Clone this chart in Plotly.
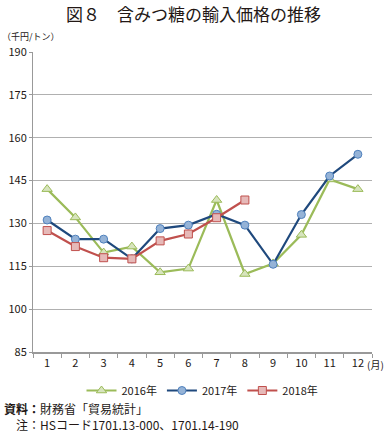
import plotly.graph_objects as go

months = ["1", "2", "3", "4", "5", "6", "7", "8", "9", "10", "11", "12"]
y2016 = [142.0, 132.1, 119.8, 121.9, 112.9, 114.2, 138.2, 112.3, 116.0, 126.0, 145.4, 142.0]
y2017 = [131.2, 124.5, 124.5, 117.6, 128.2, 129.4, 133.2, 129.4, 115.7, 133.1, 146.6, 154.2]
y2018 = [127.5, 121.9, 118.0, 117.6, 123.9, 126.3, 132.0, 138.2]
y_ticks = [85, 100, 115, 130, 145, 160, 175, 190]

FONT = "Noto Sans CJK JP"
W, H = 387, 432
L, R, T, B = 33, 15, 52, 80
PW, PH = W - L - R, H - T - B


def px(x):
    return (x - L) / PW


def py(y):
    return (H - B - y) / PH


fig = go.Figure()
fig.add_trace(go.Scatter(
    x=months, y=y2016, name="2016年", mode="lines+markers",
    line=dict(color="#9BBB59", width=2.2),
    marker=dict(symbol="triangle-up", size=9, color="#D7E4BD",
                line=dict(color="#9BBB59", width=1)),
))
fig.add_trace(go.Scatter(
    x=months, y=y2017, name="2017年", mode="lines+markers",
    line=dict(color="#1F497D", width=2.2),
    marker=dict(symbol="circle", size=8, color="#95B3D7",
                line=dict(color="#4F81BD", width=1)),
))
fig.add_trace(go.Scatter(
    x=months[:len(y2018)], y=y2018, name="2018年", mode="lines+markers",
    line=dict(color="#C0504D", width=2.2),
    marker=dict(symbol="square", size=8, color="#E6B9B8",
                line=dict(color="#C0504D", width=1)),
))

fig.update_layout(
    width=W, height=H,
    margin=dict(l=L, r=R, t=T, b=B, autoexpand=False),
    paper_bgcolor="white", plot_bgcolor="white",
    font=dict(family=FONT, size=11, color="#231815"),
    showlegend=True,
    legend=dict(orientation="h", x=0.5, xanchor="center", y=py(376), yanchor="top",
                font=dict(size=11), tracegroupgap=0, bgcolor="rgba(0,0,0,0)"),
    title=dict(text="図８　含みつ糖の輸入価格の推移", x=0.5, xanchor="center",
               y=1 - 15 / H, yanchor="middle", font=dict(size=17, family=FONT)),
)
fig.update_xaxes(
    type="category", tickson="boundaries", ticks="outside", ticklen=4,
    tickcolor="#999999", showline=True, linecolor="#999999", linewidth=2,
    showgrid=False, tickfont=dict(size=11), range=[-0.5, 11.5],
)
fig.update_yaxes(
    range=[85, 190], tickvals=y_ticks, ticks="outside", ticklen=3,
    tickcolor="#999999", showline=True, linecolor="#999999", linewidth=1,
    showgrid=True, gridcolor="#B0B0B0", gridwidth=1, zeroline=False,
    tickfont=dict(size=11),
)

fig.add_annotation(text="（千円/トン）", xref="paper", yref="paper",
                   x=px(0), y=py(37), xanchor="left", yanchor="middle",
                   showarrow=False, font=dict(size=9))
fig.add_annotation(text="(月)", xref="paper", yref="paper",
                   x=px(386), y=py(364), xanchor="right", yanchor="middle",
                   showarrow=False, font=dict(size=10))
fig.add_annotation(text="<b>資料：</b>財務省「貿易統計」", xref="paper", yref="paper",
                   x=px(2), y=py(408), xanchor="left", yanchor="middle",
                   showarrow=False, font=dict(size=12))
fig.add_annotation(text="　注：HSコード1701.13-000、1701.14-190", xref="paper", yref="paper",
                   x=px(2), y=py(424), xanchor="left", yanchor="middle",
                   showarrow=False, font=dict(size=12))

fig.write_html("out.html", config={"displayModeBar": False},
               post_script="document.body.style.margin='0';document.body.style.overflow='hidden';")
